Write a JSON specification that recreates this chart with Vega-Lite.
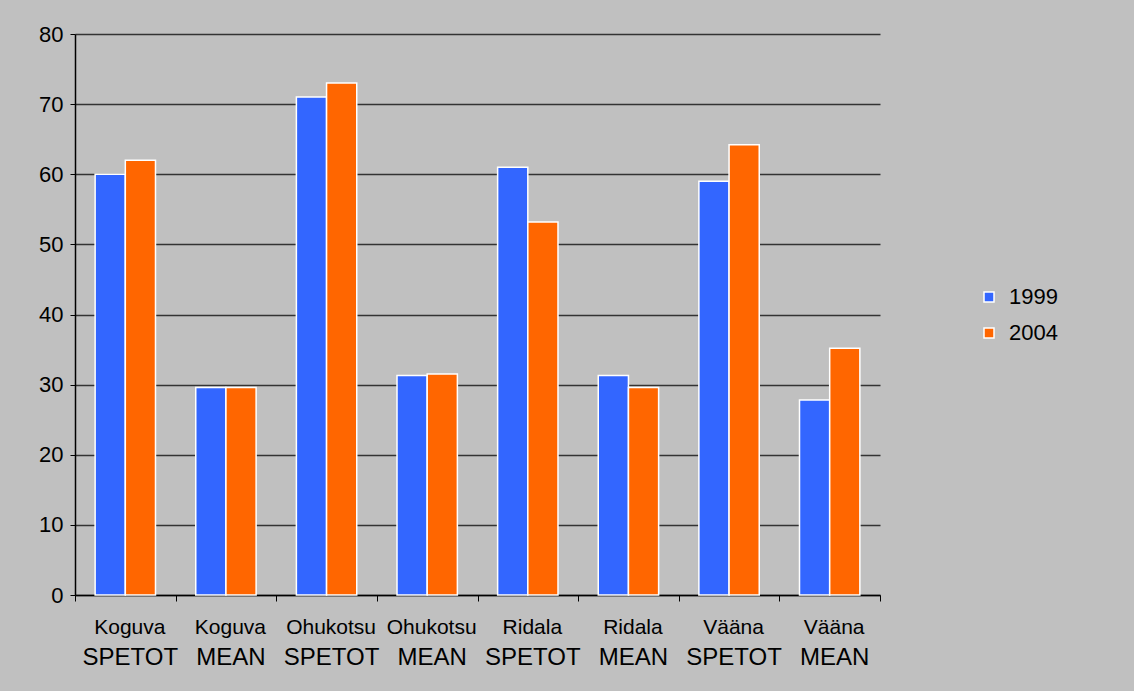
{
  "$schema": "https://vega.github.io/schema/vega-lite/v6.json",
  "autosize": "none",
  "width": 805,
  "height": 561,
  "padding": {"left": 75, "top": 34, "right": 254, "bottom": 96},
  "background": "#c0c0c0",
  "config": {
    "view": {"stroke": null},
    "font": "Liberation Sans",
    "axis": {"labelFont": "Liberation Sans", "labelColor": "#000000"},
    "legend": {"labelFont": "Liberation Sans"}
  },
  "data": {
    "values": [
      {"site": "Koguva SPETOT", "year": "1999", "value": 60},
      {"site": "Koguva SPETOT", "year": "2004", "value": 62},
      {"site": "Koguva MEAN", "year": "1999", "value": 29.6},
      {"site": "Koguva MEAN", "year": "2004", "value": 29.6},
      {"site": "Ohukotsu SPETOT", "year": "1999", "value": 71},
      {"site": "Ohukotsu SPETOT", "year": "2004", "value": 73},
      {"site": "Ohukotsu MEAN", "year": "1999", "value": 31.3},
      {"site": "Ohukotsu MEAN", "year": "2004", "value": 31.5},
      {"site": "Ridala SPETOT", "year": "1999", "value": 61},
      {"site": "Ridala SPETOT", "year": "2004", "value": 53.2},
      {"site": "Ridala MEAN", "year": "1999", "value": 31.3},
      {"site": "Ridala MEAN", "year": "2004", "value": 29.6},
      {"site": "Vääna SPETOT", "year": "1999", "value": 59},
      {"site": "Vääna SPETOT", "year": "2004", "value": 64.2},
      {"site": "Vääna MEAN", "year": "1999", "value": 27.8},
      {"site": "Vääna MEAN", "year": "2004", "value": 35.2}
    ]
  },
  "layer": [
    {
      "mark": {"type": "bar", "stroke": "#ffffff", "strokeWidth": 1.5},
      "encoding": {
        "x": {
          "field": "site",
          "type": "nominal",
          "sort": null,
          "scale": {"paddingInner": 0, "paddingOuter": 0},
          "axis": {
            "title": null,
            "labelAngle": 0,
            "labelExpr": "split(datum.label, ' ')[0]",
            "labelFontSize": 21,
            "labelPadding": 15,
            "labelOffset": 4,
            "tickBand": "extent",
            "tickSize": 6,
            "tickColor": "#000000",
            "domainColor": "#000000",
            "domainWidth": 1.5,
            "grid": false,
            "orient": "bottom"
          }
        },
        "xOffset": {
          "field": "year",
          "type": "nominal",
          "scale": {"paddingInner": 0, "paddingOuter": 0.667}
        },
        "y": {
          "field": "value",
          "type": "quantitative",
          "scale": {"domain": [0, 80], "nice": false},
          "axis": {
            "title": null,
            "values": [0, 10, 20, 30, 40, 50, 60, 70, 80],
            "labelFontSize": 22,
            "labelPadding": 7,
            "tickSize": 5,
            "tickColor": "#000000",
            "domainColor": "#000000",
            "domainWidth": 1.5,
            "gridColor": "#333333",
            "gridWidth": 1.5,
            "gridOpacity": 1
          }
        },
        "color": {
          "field": "year",
          "type": "nominal",
          "scale": {"domain": ["1999", "2004"], "range": ["#3366ff", "#ff6600"]},
          "legend": {
            "title": null,
            "orient": "none",
            "legendX": 903,
            "legendY": 252,
            "symbolType": "square",
            "symbolSize": 100,
            "symbolStrokeColor": "#ffffff",
            "symbolStrokeWidth": 1.5,
            "symbolOpacity": 1,
            "labelFontSize": 22,
            "labelOffset": 9,
            "rowPadding": 14,
            "padding": 0
          }
        }
      }
    },
    {
      "mark": {"type": "bar", "opacity": 0},
      "encoding": {
        "x": {
          "field": "site",
          "type": "nominal",
          "sort": null,
          "axis": {
            "title": null,
            "orient": "bottom",
            "labelAngle": 0,
            "labelExpr": "split(datum.label, ' ')[1]",
            "labelFontSize": 24,
            "labelPadding": 50,
            "labelOffset": 5,
            "ticks": false,
            "tickSize": 0,
            "domain": false,
            "grid": false
          }
        },
        "y": {"field": "value", "type": "quantitative"}
      }
    }
  ],
  "resolve": {"axis": {"x": "independent"}}
}
